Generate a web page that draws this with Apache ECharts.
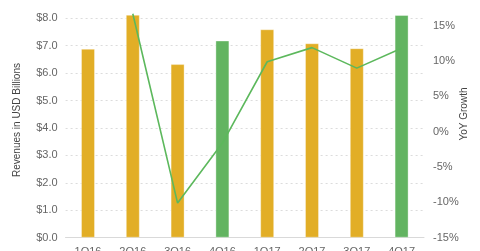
<!DOCTYPE html>
<html>
<head>
<meta charset="utf-8">
<script src="https://cdn.jsdelivr.net/npm/echarts@6/dist/echarts.min.js"></script>
<style>
html,body{margin:0;padding:0;background:#fff;}
#chart{width:480px;height:251px;}
</style>
</head>
<body>
<div id="chart"></div>
<script>
var quarters = ['1Q16','2Q16','3Q16','4Q16','1Q17','2Q17','3Q17','4Q17'];
var revenues = [6.89, 8.13, 6.33, 7.19, 7.60, 7.09, 6.91, 8.12];
var yoyGrowth = [null, 16.7, -10.1, -1.6, 9.9, 11.9, 9.0, 11.8];
var revenueTicks = { min: 0, max: 8, interval: 1 };
var growthTicks = { min: -15, max: 16.05, interval: 5 };

var YELLOW = '#E2AE26';
var GREEN = '#62B461';
var chart = echarts.init(document.getElementById('chart'));
var font = 'Liberation Sans, Arial, sans-serif';
chart.setOption({
  animation: false,
  grid: { left: 65.6, right: 56, top: 18.3, bottom: 13.3, containLabel: false, outerBoundsMode: 'none' },
  xAxis: {
    type: 'category',
    data: quarters,
    axisLine: { lineStyle: { color: '#d9d9d9' } },
    axisTick: { show: false },
    axisLabel: { color: '#666', fontSize: 11, fontFamily: font, margin: 9 }
  },
  yAxis: [{
    type: 'value',
    min: revenueTicks.min, max: revenueTicks.max, interval: revenueTicks.interval,
    axisLine: { show: false },
    axisTick: { show: false },
    axisLabel: { color: '#666', fontSize: 11, fontFamily: font, margin: 8,
      formatter: function (v) { return '$' + v.toFixed(1); } },
    splitLine: { lineStyle: { color: '#dcdcdc', type: [2, 3] } }
  }, {
    type: 'value',
    min: growthTicks.min, max: growthTicks.max, interval: growthTicks.interval,
    axisLine: { show: false },
    axisTick: { show: false },
    splitLine: { show: false },
    axisLabel: { color: '#666', fontSize: 11, fontFamily: font, margin: 9, showMaxLabel: false,
      formatter: function (v) { return v + '%'; } }
  }],
  graphic: [{
    type: 'text', rotation: Math.PI / 2,
    x: 17, y: 120,
    style: { text: 'Revenues in USD Billions', fill: '#444', font: '10px ' + font,
      textAlign: 'center', textVerticalAlign: 'middle' }
  }, {
    type: 'text', rotation: Math.PI / 2,
    x: 464, y: 114,
    style: { text: 'YoY Growth', fill: '#444', font: '10px ' + font,
      textAlign: 'center', textVerticalAlign: 'middle' }
  }],
  series: [{
    type: 'bar',
    data: revenues,
    barWidth: 14,
    yAxisIndex: 0,
    clip: false,
    itemStyle: {
      color: function (p) { return quarters[p.dataIndex].indexOf('4Q') === 0 ? GREEN : YELLOW; },
      borderColor: 'rgba(255,255,255,0.35)', borderWidth: 1
    }
  }, {
    type: 'line',
    data: yoyGrowth,
    yAxisIndex: 1,
    clip: false,
    showSymbol: false,
    symbol: 'none',
    lineStyle: { color: '#5CB85C', width: 1.6 },
    z: 3
  }]
});
</script>
</body>
</html>
